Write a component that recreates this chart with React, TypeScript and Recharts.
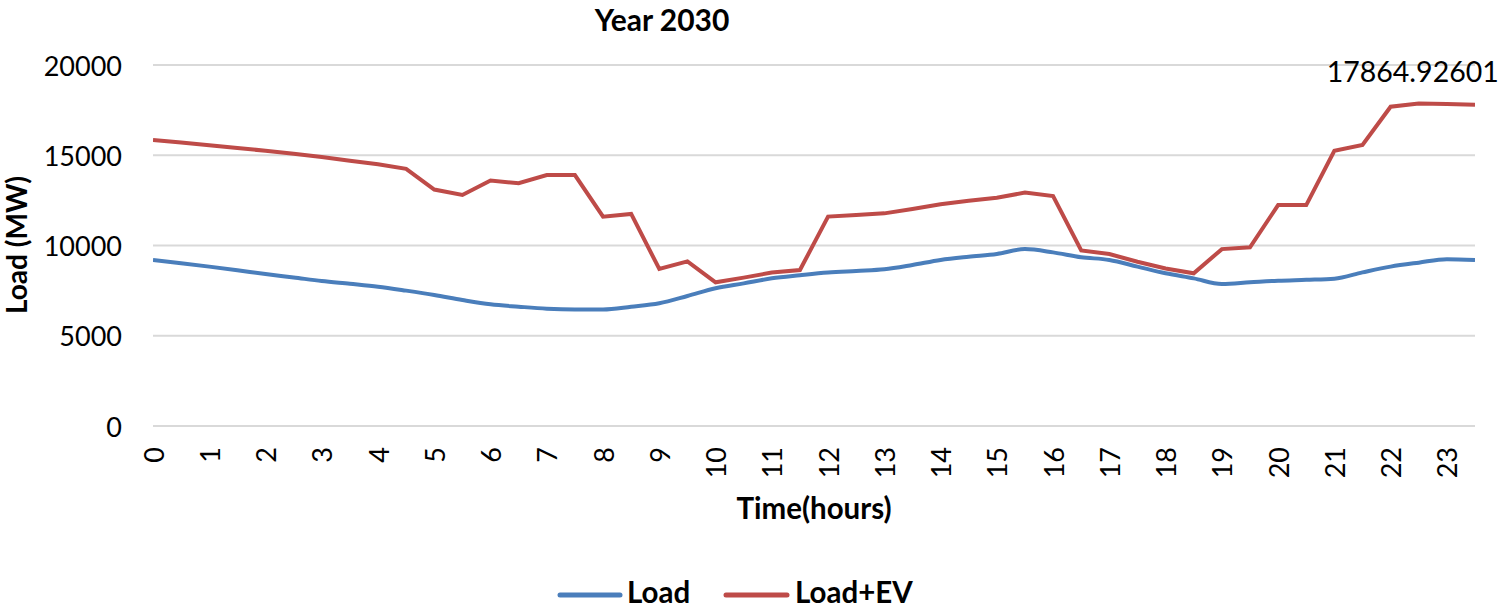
import React from "react";
import { LineChart, Line, XAxis, YAxis, CartesianGrid, Customized } from "recharts";

const hours = [0, 0.5, 1, 1.5, 2, 2.5, 3, 3.5, 4, 4.5, 5, 5.5, 6, 6.5, 7, 7.5, 8, 8.5, 9, 9.5, 10, 10.5, 11, 11.5, 12, 12.5, 13, 13.5, 14, 14.5, 15, 15.5, 16, 16.5, 17, 17.5, 18, 18.5, 19, 19.5, 20, 20.5, 21, 21.5, 22, 22.5, 23, 23.5];

const load = [9200, 9020, 8830, 8630, 8420, 8230, 8030, 7880, 7720, 7500, 7260, 6980, 6740, 6610, 6500, 6460, 6460, 6610, 6800, 7200, 7630, 7900, 8180, 8350, 8500, 8590, 8680, 8920, 9200, 9380, 9530, 9800, 9620, 9350, 9200, 8830, 8460, 8180, 7870, 7960, 8050, 8100, 8160, 8510, 8830, 9050, 9240, 9200];

const loadEV = [15850, 15700, 15550, 15400, 15250, 15080, 14900, 14700, 14500, 14250, 13100, 12800, 13600, 13450, 13900, 13900, 11600, 11750, 8700, 9120, 7960, 8220, 8500, 8640, 11600, 11690, 11780, 12020, 12280, 12480, 12650, 12930, 12740, 9730, 9530, 9100, 8730, 8460, 9800, 9900, 12240, 12240, 15250, 15570, 17690, 17864.92601, 17840, 17800];

const xTicks = [0, 1, 2, 3, 4, 5, 6, 7, 8, 9, 10, 11, 12, 13, 14, 15, 16, 17, 18, 19, 20, 21, 22, 23];
const yTicks = [0, 5000, 10000, 15000, 20000];

const seriesNames = ["Load", "Load+EV"];
const colors = ["#4a7ebb", "#be4b48"];
const labelIndex = 45;

const data = hours.map((h, i) => ({ hour: h, load: load[i], loadEV: loadEV[i] }));

const FONT = "Lato, 'Noto Sans', sans-serif";

const XTick = (props: any) => {
  const { x, y, payload } = props;
  const ty = y + 13;
  return (
    <text
      x={x}
      y={ty}
      transform={`rotate(-90, ${x}, ${ty})`}
      textAnchor="end"
      dominantBaseline="central"
      fontFamily={FONT}
      fontSize={27}
      fill="#000"
    >
      {payload.value}
    </text>
  );
};

const YTick = (props: any) => {
  const { y, payload } = props;
  return (
    <text x={122} y={y} textAnchor="end" dominantBaseline="central" fontFamily={FONT} fontSize={27} fill="#000">
      {payload.value}
    </text>
  );
};

const PeakLabel = (props: any) => {
  const { x, y, index, value } = props;
  if (index !== labelIndex) return null;
  return (
    <text x={x - 6} y={y - 22} textAnchor="middle" fontFamily={FONT} fontSize={28.5} fill="#000">
      {Number(value).toFixed(5)}
    </text>
  );
};

const Decorations = () => (
  <g fontFamily={FONT} fill="#000">
    <text x={662} y={31} textAnchor="middle" fontSize={30} fontWeight="bold">
      Year 2030
    </text>
    <text x={27} y={245} transform="rotate(-90, 27, 245)" textAnchor="middle" fontSize={28} fontWeight="bold">
      Load (MW)
    </text>
    <text x={814} y={519} textAnchor="middle" fontSize={29.5} fontWeight="bold">
      Time(hours)
    </text>
    <line x1={560} y1={595} x2={620} y2={595} stroke={colors[0]} strokeWidth={5} strokeLinecap="round" />
    <text x={627} y={603} fontSize={29.5} fontWeight="bold">
      {seriesNames[0]}
    </text>
    <line x1={726} y1={595} x2={787} y2={595} stroke={colors[1]} strokeWidth={5} strokeLinecap="round" />
    <text x={795} y={603} fontSize={29.5} fontWeight="bold">
      {seriesNames[1]}
    </text>
  </g>
);

export default function App() {
  return (
    <div style={{ position: "absolute", left: 0, top: 0, width: 1499, height: 608, background: "#fff" }}>
      <LineChart width={1499} height={608} data={data} margin={{ top: 65, right: 24, left: 0, bottom: 0 }}>
        <CartesianGrid horizontal={true} vertical={false} stroke="#d9d9d9" strokeWidth={2} />
        <XAxis
          dataKey="hour"
          type="number"
          domain={[0, 23.5]}
          ticks={xTicks}
          interval={0}
          height={182}
          axisLine={false}
          tickLine={false}
          tick={<XTick />}
          allowDataOverflow
        />
        <YAxis
          type="number"
          domain={[0, 20000]}
          ticks={yTicks}
          width={153}
          axisLine={false}
          tickLine={false}
          tick={<YTick />}
        />
        <Line
          type="monotone"
          dataKey="load"
          name={seriesNames[0]}
          stroke={colors[0]}
          strokeWidth={4}
          dot={false}
          isAnimationActive={false}
        />
        <Line
          type="linear"
          dataKey="loadEV"
          name={seriesNames[1]}
          stroke={colors[1]}
          strokeWidth={4}
          dot={false}
          isAnimationActive={false}
          label={<PeakLabel />}
        />
        <Customized component={<Decorations />} />
      </LineChart>
    </div>
  );
}
